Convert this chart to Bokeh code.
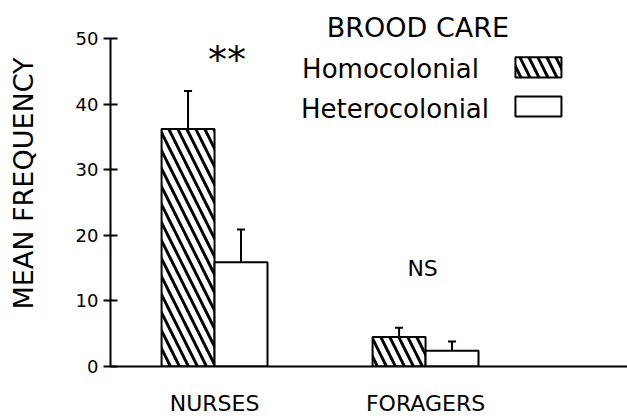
import numpy as np
from bokeh.plotting import figure
from bokeh.models import (Range1d, FixedTicker, Whisker, TeeHead, Label,
                          BoxAnnotation, ColumnDataSource)
from bokeh.embed import file_html
from bokeh.resources import INLINE

# ---- data ----
categories = ["NURSES", "FORAGERS"]
homocolonial = [36.2, 4.5]
homocolonial_err = [5.8, 1.4]
heterocolonial = [15.9, 2.4]
heterocolonial_err = [5.0, 1.4]
y_ticks = [0, 10, 20, 30, 40, 50]
series_names = ["Homocolonial", "Heterocolonial"]
legend_title = "BROOD CARE"
y_title = "MEAN FREQUENCY"
sig_labels = ["**", "NS"]

FONT = "DejaVu Sans"
BAR_W = 0.251

pos = np.arange(len(categories)) + 0.5

p = figure(width=627, height=418, output_backend="svg", toolbar_location=None,
           x_range=Range1d(0.007, 2.457), y_range=Range1d(0, 55.8),
           min_border_left=110, min_border_right=0, min_border_top=0,
           min_border_bottom=50)
p.outline_line_color = None
p.xgrid.visible = False
p.ygrid.visible = False
p.background_fill_color = "white"

homo_src = ColumnDataSource(dict(x=pos - BAR_W / 2, top=homocolonial,
                                 upper=np.array(homocolonial) + np.array(homocolonial_err)))
het_src = ColumnDataSource(dict(x=pos + BAR_W / 2, top=heterocolonial,
                                upper=np.array(heterocolonial) + np.array(heterocolonial_err)))

for src in (homo_src, het_src):
    w = Whisker(source=src, base="x", lower="top", upper="upper", dimension="height",
                line_color="black", line_width=2,
                upper_head=TeeHead(size=8, line_width=2, line_color="black"),
                lower_head=None)
    p.add_layout(w)

p.vbar(x="x", top="top", bottom=0, width=BAR_W, source=homo_src,
       fill_color="white", line_color="black", line_width=2,
       hatch_pattern="left_diagonal_line", hatch_scale=18, hatch_weight=3,
       hatch_color="black")
p.vbar(x="x", top="top", bottom=0, width=BAR_W, source=het_src,
       fill_color="white", line_color="black", line_width=2)

# axes
xa = p.xaxis[0]
xa.ticker = FixedTicker(ticks=list(pos))
xa.major_label_overrides = {float(x): c for x, c in zip(pos, categories)}
xa.major_tick_out = 0
xa.major_tick_in = 0
xa.minor_tick_out = 0
xa.minor_tick_in = 0
xa.axis_line_width = 2
xa.axis_line_color = "black"
xa.major_label_text_font = FONT
xa.major_label_text_font_size = "22px"
xa.major_label_text_color = "black"
xa.major_label_standoff = 24

ya = p.yaxis[0]
ya.ticker = FixedTicker(ticks=y_ticks)
ya.bounds = (y_ticks[0], y_ticks[-1])
ya.major_tick_out = 7
ya.major_tick_in = 7
ya.minor_tick_out = 0
ya.minor_tick_in = 0
ya.major_tick_line_width = 2
ya.axis_line_width = 2
ya.axis_line_color = "black"
ya.major_tick_line_color = "black"
ya.major_label_text_font = FONT
ya.major_label_text_font_size = "18px"
ya.major_label_text_color = "black"
ya.major_label_standoff = 5
ya.axis_label = y_title
ya.axis_label_text_font = FONT
ya.axis_label_text_font_size = "27px"
ya.axis_label_text_font_style = "normal"
ya.axis_label_text_color = "black"
ya.axis_label_standoff = 34

# significance labels
p.add_layout(Label(x=pos[0] + 0.059, y=46.7, text=sig_labels[0], text_font=FONT,
                   text_font_size="38px", text_align="center", text_baseline="middle",
                   text_color="black"))
p.add_layout(Label(x=pos[1] - 0.014, y=15.0, text=sig_labels[1], text_font=FONT,
                   text_font_size="22px", text_align="center", text_baseline="alphabetic",
                   text_color="black"))

# legend
p.add_layout(Label(x=1.464, y=51.65, text=legend_title, text_font=FONT,
                   text_font_size="27px", text_align="center", text_baseline="alphabetic",
                   text_color="black"))
p.add_layout(Label(x=0.915, y=45.35, text=series_names[0], text_font=FONT,
                   text_font_size="26px", text_align="left", text_baseline="alphabetic",
                   text_color="black"))
p.add_layout(Label(x=0.910, y=39.3, text=series_names[1], text_font=FONT,
                   text_font_size="26px", text_align="left", text_baseline="alphabetic",
                   text_color="black"))
p.add_layout(BoxAnnotation(left=1.926, right=2.144, bottom=44.05, top=47.15,
                           fill_color="white", fill_alpha=1, line_color="black",
                           line_width=2, line_alpha=1,
                           hatch_pattern="left_diagonal_line", hatch_scale=18,
                           hatch_weight=3, hatch_color="black"))
p.add_layout(BoxAnnotation(left=1.926, right=2.144, bottom=38.13, top=41.17,
                           fill_color="white", fill_alpha=1, line_color="black",
                           line_width=2, line_alpha=1))

open("out.html", "w").write(file_html(p, INLINE))
